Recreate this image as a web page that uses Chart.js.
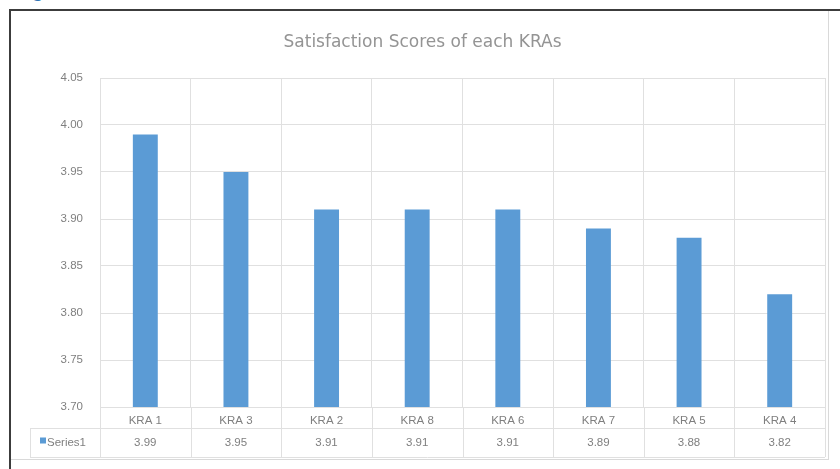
<!DOCTYPE html>
<html>
<head>
<meta charset="utf-8">
<script src="https://cdn.jsdelivr.net/npm/chart.js@4.4.1/dist/chart.umd.min.js"></script>
<style>
  html, body { margin: 0; padding: 0; background: #ffffff; }
  #wrap { position: relative; width: 840px; height: 469px; overflow: hidden; }
  #caption { position: absolute; left: 14px; top: 0; height: 4px; overflow: hidden; width: 200px; }
  #caption span { position: absolute; top: -21px; left: 0; font: bold 20px "Liberation Sans", sans-serif; line-height: 23px; color: #2e74b5; white-space: nowrap; }
  #frame { position: absolute; left: 9px; top: 9px; width: 840px; height: 470px; border-top: 2px solid #3c3c3c; border-left: 2px solid #3c3c3c; }
  #box { position: absolute; left: 11px; top: 11px; width: 817px; height: 448px; border-right: 1px solid #d9d9d9; border-bottom: 1px solid #d9d9d9; }
  canvas { position: absolute; left: 0; top: 0; }
</style>
</head>
<body>
<div id="wrap">
  <div id="caption"><span>Figure</span></div>
  <div id="frame"></div>
  <div id="box"></div>
  <canvas id="chart" width="840" height="469"></canvas>
</div>
<script>
// KRA satisfaction scores, sorted from highest to lowest
const categories = ['KRA 1', 'KRA 3', 'KRA 2', 'KRA 8', 'KRA 6', 'KRA 7', 'KRA 5', 'KRA 4'];
const seriesName = 'Series1';
const scores = [3.99, 3.95, 3.91, 3.91, 3.91, 3.89, 3.88, 3.82];
const yTicks = [3.70, 3.75, 3.80, 3.85, 3.90, 3.95, 4.00, 4.05];

const BAR_COLOR = '#5b9bd5';
const GRID_COLOR = '#e0e0e0';
const TEXT_COLOR = '#7f7f7f';
const TEXT_FONT = '"Liberation Sans", Arial, sans-serif';

// Data table under the x axis: category row (axis labels) plus a value row with legend key
const dataTable = {
  id: 'dataTable',
  afterDraw(chart) {
    const ctx = chart.ctx;
    const x = chart.scales.x;
    const area = chart.chartArea;
    const rowSplit = area.bottom + 21;
    const tableBottom = area.bottom + 50;
    const tableLeft = 30;
    const ds = chart.data.datasets[0];

    ctx.save();
    ctx.strokeStyle = GRID_COLOR;
    ctx.lineWidth = 1;
    ctx.beginPath();
    // horizontal rules
    ctx.moveTo(tableLeft, rowSplit + 0.5); ctx.lineTo(area.right, rowSplit + 0.5);
    ctx.moveTo(tableLeft, tableBottom + 0.5); ctx.lineTo(area.right, tableBottom + 0.5);
    // left edge of the legend cell
    ctx.moveTo(tableLeft + 0.5, rowSplit); ctx.lineTo(tableLeft + 0.5, tableBottom);
    // column separators at category boundaries
    for (let i = 0; i <= ds.data.length; i++) {
      const bx = Math.round(x.getPixelForValue(i - 0.5)) + 0.5;
      ctx.moveTo(bx, area.bottom); ctx.lineTo(bx, tableBottom);
    }
    ctx.stroke();

    // values row
    ctx.fillStyle = TEXT_COLOR;
    ctx.font = '11.5px ' + TEXT_FONT;
    ctx.textAlign = 'center';
    ctx.textBaseline = 'middle';
    const rowMid = (rowSplit + tableBottom) / 2;
    ds.data.forEach((v, i) => {
      ctx.fillText(v.toFixed(2), x.getPixelForValue(i), rowMid);
    });

    // legend key + series name
    ctx.fillStyle = ds.backgroundColor;
    ctx.fillRect(tableLeft + 10, rowMid - 5, 6, 6);
    ctx.fillStyle = TEXT_COLOR;
    ctx.textAlign = 'left';
    ctx.fillText(ds.label, tableLeft + 17, rowMid);
    ctx.restore();
  }
};

new Chart(document.getElementById('chart'), {
  type: 'bar',
  data: {
    labels: categories,
    datasets: [{
      label: seriesName,
      data: scores,
      backgroundColor: BAR_COLOR,
      borderWidth: 0,
      barPercentage: 0.275,
      categoryPercentage: 1.0
    }]
  },
  options: {
    responsive: false,
    animation: false,
    devicePixelRatio: 1,
    layout: { padding: { left: 20, right: 15, top: 20, bottom: 12 } },
    plugins: {
      legend: { display: false },
      tooltip: { enabled: false },
      title: {
        display: true,
        text: 'Satisfaction Scores of each KRAs',
        color: '#949494',
        font: { family: '"DejaVu Sans", sans-serif', size: 17, weight: 'normal' },
        padding: { top: 12, bottom: 25.6 }
      }
    },
    scales: {
      x: {
        offset: true,
        grid: { display: true, offset: true, color: GRID_COLOR, drawTicks: false },
        border: { display: true, color: GRID_COLOR },
        ticks: { color: TEXT_COLOR, font: { family: TEXT_FONT, size: 11.5 }, padding: 7, maxRotation: 0, autoSkip: false },
        afterFit(scale) { scale.height = 50; }
      },
      y: {
        min: yTicks[0],
        max: yTicks[yTicks.length - 1],
        afterBuildTicks(scale) { scale.ticks = yTicks.map(v => ({ value: v })); },
        grid: { color: GRID_COLOR, drawTicks: false },
        border: { display: true, color: GRID_COLOR },
        ticks: {
          color: TEXT_COLOR,
          font: { family: TEXT_FONT, size: 11.5 },
          padding: 17,
          callback: v => Number(v).toFixed(2)
        },
        afterFit(scale) { scale.width = 80; }
      }
    }
  },
  plugins: [dataTable]
});
</script>
</body>
</html>
